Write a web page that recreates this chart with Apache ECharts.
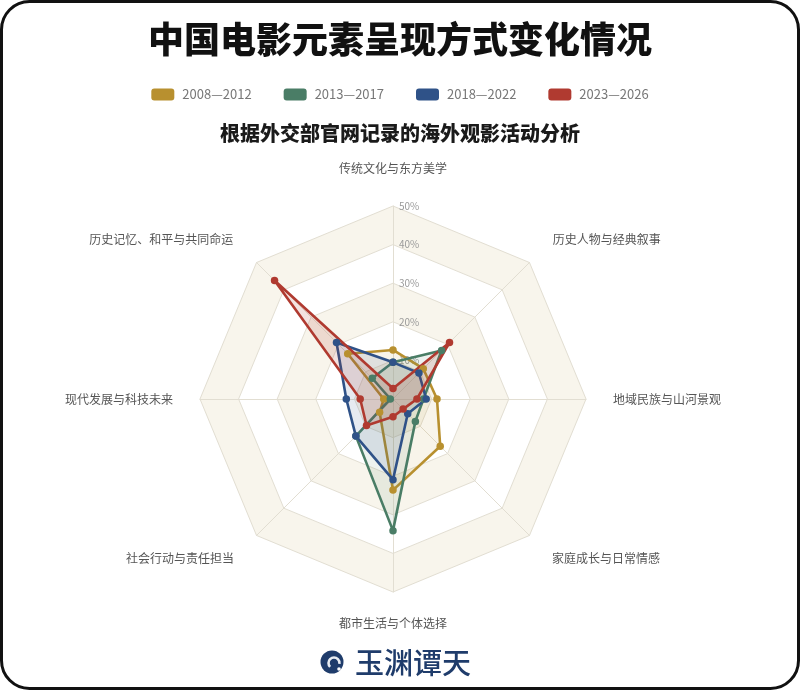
<!DOCTYPE html>
<html><head><meta charset="utf-8">
<script src="https://cdn.jsdelivr.net/npm/echarts@6/dist/echarts.min.js"></script>
<style>html,body{margin:0;padding:0;background:#fff}#c{width:800px;height:690px}</style>
</head><body><div id="c"></div>
<script>
// Indicators in counter-clockwise order starting from the top
const indicatorNames = ['传统文化与东方美学','历史记忆、和平与共同命运','现代发展与科技未来','社会行动与责任担当','都市生活与个体选择','家庭成长与日常情感','地域民族与山河景观','历史人物与经典叙事'];
const periods = ['2008—2012','2013—2017','2018—2022','2023—2026'];
const values2008 = [12.7, 16.6, 2.4, 4.9, 23.6, 17.3, 11.4, 11.1];
const values2013 = [9.5, 7.6, 0.7, 13.6, 34.1, 8.2, 7.9, 17.8];
const values2018 = [9.5, 20.7, 12.1, 13.6, 20.9, 5.4, 8.6, 9.5];
const values2023 = [2.7, 43.4, 8.5, 9.7, 4.6, 3.7, 6.2, 20.7];
const axisMax = 50;

const seriesValues = [values2008, values2013, values2018, values2023];
const colors = ['#B8902F', '#4A7D66', '#2F5288', '#B03A30'];
const areaOpacity = [0.10, 0.10, 0.12, 0.15];
const nameGaps = [32, 33, 27, 32, 25, 32, 27, 33];
const FONT = '"Noto Sans CJK SC", "Noto Sans", sans-serif';

const chart = echarts.init(document.getElementById('c'), null, {renderer: 'canvas'});
chart.setOption({
  backgroundColor: '#ffffff',
  textStyle: {fontFamily: FONT},
  title: [
    {text: '中国电影元素呈现方式变化情况', left: 'center', top: 16,
     textStyle: {fontSize: 36, fontWeight: 900, color: '#111', fontFamily: FONT}},
    {text: '根据外交部官网记录的海外观影活动分析', left: 'center', top: 118,
     textStyle: {fontSize: 20, fontWeight: 900, color: '#1a1a1a', fontFamily: FONT}}
  ],
  legend: {
    data: periods, top: 83, left: 'center', itemWidth: 23, itemHeight: 12, itemGap: 32,
    icon: 'roundRect',
    textStyle: {color: '#777', fontSize: 13, padding: [0, 0, 0, 3]}
  },
  radar: {
    center: [393, 399], radius: 193, startAngle: 90, splitNumber: 5, shape: 'polygon',
    nameGap: 28,
    axisName: {color: '#555', fontSize: 12},
    splitArea: {show: true, areaStyle: {color: ['#F8F5EC', '#FFFFFF']}},
    splitLine: {lineStyle: {color: '#E2DED2', width: 1}},
    axisLine: {lineStyle: {color: '#E2DED2', width: 1}},
    axisLabel: {show: false, color: '#9a9a9a', fontSize: 10, margin: -6, align: 'left', verticalAlign: 'middle',
      formatter: v => v === 0 ? '' : v + '%'},
    indicator: indicatorNames.map((n, i) => i === 0
      ? {name: n, min: 0, max: axisMax, nameGap: nameGaps[i], axisLabel: {show: true}}
      : {name: n, min: 0, max: axisMax, nameGap: nameGaps[i]})
  },
  series: [{
    type: 'radar',
    symbol: 'circle', symbolSize: 7.5,
    data: periods.map((p, i) => ({
      name: p,
      value: seriesValues[i],
      lineStyle: {color: colors[i], width: 2.6},
      itemStyle: {color: colors[i]},
      areaStyle: {color: colors[i], opacity: areaOpacity[i]}
    }))
  }],
  color: colors,
  graphic: [
    {type: 'rect', silent: true, z: 100,
     shape: {x: 1.5, y: 1.5, width: 797, height: 687, r: 28},
     style: {fill: 'none', stroke: '#111', lineWidth: 3}},
    {type: 'group', silent: true, children: [
      {type: 'circle', shape: {cx: 332, cy: 662, r: 11.5}, style: {fill: '#1F3C6B'}},
      {type: 'arc', shape: {cx: 334, cy: 663, r: 5.5, startAngle: Math.PI * 0.75, endAngle: Math.PI * 2.05}, style: {fill: 'none', stroke: '#E8ECF2', lineWidth: 2.6}},
      {type: 'circle', shape: {cx: 339, cy: 669, r: 1.8}, style: {fill: '#fff'}},
      {type: 'text', style: {text: '玉渊谭天', x: 355, y: 663, font: '500 29px "Noto Sans CJK SC"', fill: '#1F3C6B', textVerticalAlign: 'middle'}}
    ]}
  ]
});
</script>
</body></html>
